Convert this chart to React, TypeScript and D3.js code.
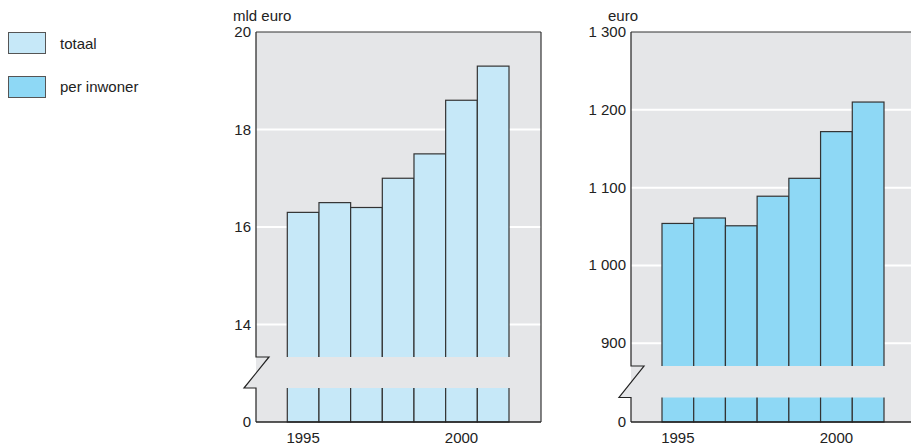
import * as React from 'react';
import * as d3 from 'd3';

const years = [1995, 1996, 1997, 1998, 1999, 2000, 2001];
const totaal = [16.3, 16.5, 16.4, 17.0, 17.5, 18.6, 19.3];
const perInwoner = [1054, 1061, 1051, 1089, 1112, 1172, 1210];
const totaalTicks = [14, 16, 18, 20];
const perInwonerTicks = [900, 1000, 1100, 1200, 1300];
const yearLabels = [1995, 2000];

const bg = '#e5e6e8';
const lightBlue = '#c6e8f8';
const blue = '#8ed8f5';
const font = 'Liberation Sans, Arial, sans-serif';

const nl = d3.formatLocale({decimal: ',', thousands: '\u00a0', grouping: [3], currency: ['', '']});
const fmt = nl.format(',');

interface PanelProps {
    values: number[];
    ticks: number[];
    unit: string;
    color: string;
    left: number;
    right: number;
    barStart: number;
    barEnd: number;
    yTop: number;
    yLow: number;
    breakTop: number;
    breakBottom: number;
    border: boolean;
}

const top = 32;
const bottom = 422;

function Panel(p: PanelProps) {
    const lo = p.ticks[0];
    const hi = p.ticks[p.ticks.length - 1];
    const y = d3.scaleLinear().domain([lo, hi]).range([p.yLow, p.yTop]);
    const x = d3.scaleBand<number>().domain(years).range([p.barStart, p.barEnd]).paddingInner(0);
    const zig = `M${p.left},${top}V${p.breakTop}H${p.left + 13}L${p.left - 12},${p.breakBottom}H${p.left}V${bottom}`;
    return (
        <g>
            <rect x={p.left} y={top} width={p.right - p.left} height={bottom - top} fill={bg} />
            {p.ticks.slice(0, -1).map((t) => (
                <line key={t} x1={p.left} x2={p.right} y1={y(t)} y2={y(t)} stroke='#fff' strokeWidth={2} />
            ))}
            {p.values.map((v, i) => (
                <rect key={years[i]} x={x(years[i])} y={y(v)} width={x.bandwidth()} height={bottom - y(v)}
                    fill={p.color} stroke='#333' strokeWidth={1.2} />
            ))}
            <polygon
                points={`${p.left + 13},${p.breakTop} ${p.right},${p.breakTop} ${p.right},${p.breakBottom} ${p.left - 12},${p.breakBottom}`}
                fill={bg} />
            <path d={zig} fill='none' stroke='#222' strokeWidth={1.2} />
            <line x1={p.left} x2={p.right} y1={top} y2={top} stroke='#333' strokeWidth={1.2} />
            <line x1={p.left} x2={p.right} y1={bottom} y2={bottom} stroke='#222' strokeWidth={1.5} />
            {p.border && <line x1={p.right} x2={p.right} y1={top} y2={bottom} stroke='#333' strokeWidth={1.2} />}
            <g fontFamily={font} fontSize={15} fill='#222'>
                <text x={p.left - 23} y={top - 11}>{p.unit}</text>
                {p.ticks.map((t) => (
                    <text key={t} x={p.left - 5} y={y(t) + 5} textAnchor='end'>{fmt(t)}</text>
                ))}
                <text x={p.left - 5} y={bottom + 5} textAnchor='end'>0</text>
                {yearLabels.map((yr) => (
                    <text key={yr} x={(x(yr) as number) + x.bandwidth() / 2} y={443} textAnchor='middle'>{yr}</text>
                ))}
            </g>
        </g>
    );
}

export default function App() {
    return (
        <svg width={911} height={446} style={{position: 'absolute', left: 0, top: 0, background: '#fff'}}>
            <g fontFamily={font} fontSize={15} fill='#222'>
                <rect x={8.5} y={32.5} width={37} height={21} fill={lightBlue} stroke='#555' />
                <text x={60} y={49}>totaal</text>
                <rect x={8.5} y={76.5} width={37} height={21} fill={blue} stroke='#555' />
                <text x={60} y={92}>per inwoner</text>
            </g>
            <Panel values={totaal} ticks={totaalTicks} unit='mld euro' color={lightBlue}
                left={256} right={541} barStart={287.3} barEnd={509}
                yTop={32} yLow={324.5} breakTop={357} breakBottom={388} border={true} />
            <Panel values={perInwoner} ticks={perInwonerTicks} unit='euro' color={blue}
                left={631} right={912} barStart={662} barEnd={884}
                yTop={32} yLow={343.3} breakTop={366} breakBottom={397.5} border={false} />
        </svg>
    );
}
